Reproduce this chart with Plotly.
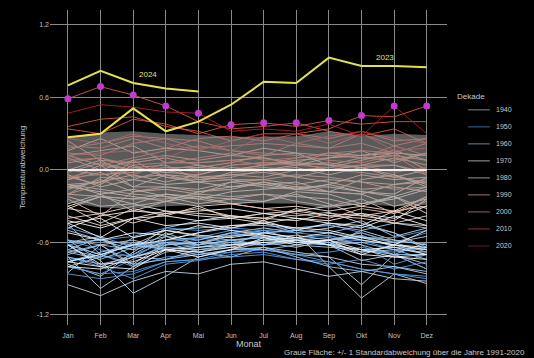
import plotly.graph_objects as go

# Monthly global temperature anomalies (°C) relative to 1991-2020, one row per year
months = ["Jan", "Feb", "Mar", "Apr", "Mai", "Jun", "Jul", "Aug", "Sep", "Okt", "Nov", "Dez"]

years_1940s = [
    [-0.72, -0.98, -0.80, -0.62, -0.60, -0.55, -0.50, -0.58, -0.62, -0.75, -0.70, -0.82],
    [-0.60, -0.55, -0.72, -0.58, -0.52, -0.48, -0.44, -0.52, -0.48, -0.42, -0.55, -0.48],
    [-0.45, -0.70, -0.62, -0.50, -0.55, -0.58, -0.62, -0.56, -0.60, -0.68, -0.62, -0.70],
    [-0.85, -0.62, -0.58, -0.65, -0.70, -0.66, -0.60, -0.64, -0.58, -0.52, -0.60, -0.55],
    [-0.50, -0.58, -0.66, -0.48, -0.42, -0.40, -0.36, -0.38, -0.35, -0.44, -0.52, -0.66],
    [-0.62, -0.80, -0.70, -0.55, -0.62, -0.52, -0.48, -0.52, -0.80, -1.06, -0.86, -0.94],
    [-0.68, -0.62, -0.78, -0.60, -0.68, -0.72, -0.64, -0.68, -0.72, -0.95, -0.70, -0.78],
    [-0.78, -0.88, -0.68, -0.52, -0.62, -0.58, -0.55, -0.60, -0.62, -0.50, -0.58, -0.62],
    [-0.58, -0.75, -1.02, -0.88, -0.72, -0.66, -0.66, -0.70, -0.72, -0.78, -0.80, -0.86],
    [-0.95, -1.04, -0.92, -0.84, -0.86, -0.78, -0.76, -0.82, -0.88, -0.84, -0.90, -0.92],
]
years_1950s = [
    [-0.80, -0.86, -0.84, -0.76, -0.74, -0.68, -0.64, -0.70, -0.76, -0.82, -0.86, -0.88],
    [-0.80, -0.86, -0.74, -0.62, -0.58, -0.52, -0.50, -0.48, -0.45, -0.52, -0.60, -0.52],
    [-0.58, -0.66, -0.72, -0.58, -0.56, -0.54, -0.52, -0.56, -0.54, -0.62, -0.78, -0.70],
    [-0.62, -0.58, -0.55, -0.48, -0.50, -0.48, -0.50, -0.52, -0.55, -0.58, -0.66, -0.64],
    [-0.76, -0.70, -0.80, -0.72, -0.70, -0.68, -0.66, -0.70, -0.68, -0.64, -0.70, -0.82],
    [-0.72, -0.80, -0.90, -0.78, -0.75, -0.70, -0.68, -0.74, -0.76, -0.82, -0.86, -0.90],
    [-0.86, -0.90, -0.86, -0.76, -0.74, -0.72, -0.70, -0.74, -0.78, -0.74, -0.82, -0.76],
    [-0.74, -0.72, -0.70, -0.60, -0.56, -0.50, -0.52, -0.50, -0.52, -0.56, -0.56, -0.50],
    [-0.48, -0.55, -0.64, -0.58, -0.56, -0.60, -0.54, -0.58, -0.60, -0.58, -0.62, -0.66],
    [-0.62, -0.70, -0.62, -0.60, -0.64, -0.58, -0.56, -0.58, -0.62, -0.66, -0.68, -0.64],
]
years_1960s = [
    [-0.70, -0.62, -0.80, -0.68, -0.64, -0.60, -0.62, -0.58, -0.56, -0.62, -0.70, -0.60],
    [-0.60, -0.58, -0.62, -0.55, -0.58, -0.52, -0.56, -0.54, -0.58, -0.55, -0.60, -0.68],
    [-0.58, -0.62, -0.66, -0.60, -0.62, -0.58, -0.56, -0.60, -0.58, -0.56, -0.58, -0.62],
    [-0.66, -0.56, -0.72, -0.64, -0.66, -0.62, -0.52, -0.50, -0.52, -0.46, -0.52, -0.64],
    [-0.62, -0.70, -0.78, -0.74, -0.70, -0.66, -0.64, -0.72, -0.80, -0.84, -0.80, -0.84],
    [-0.72, -0.78, -0.72, -0.74, -0.66, -0.64, -0.66, -0.62, -0.64, -0.66, -0.70, -0.70],
    [-0.76, -0.68, -0.62, -0.66, -0.62, -0.54, -0.54, -0.58, -0.60, -0.68, -0.66, -0.68],
    [-0.68, -0.74, -0.64, -0.62, -0.60, -0.62, -0.58, -0.60, -0.58, -0.54, -0.64, -0.66],
    [-0.80, -0.72, -0.60, -0.66, -0.68, -0.62, -0.62, -0.60, -0.62, -0.60, -0.66, -0.74],
    [-0.66, -0.72, -0.56, -0.50, -0.48, -0.46, -0.46, -0.48, -0.46, -0.50, -0.44, -0.48],
]
years_1970s = [
    [-0.44, -0.40, -0.56, -0.50, -0.54, -0.56, -0.52, -0.56, -0.52, -0.58, -0.62, -0.66],
    [-0.62, -0.78, -0.76, -0.66, -0.64, -0.62, -0.60, -0.58, -0.62, -0.66, -0.64, -0.70],
    [-0.76, -0.70, -0.62, -0.58, -0.52, -0.46, -0.44, -0.40, -0.42, -0.36, -0.40, -0.30],
    [-0.30, -0.22, -0.28, -0.34, -0.38, -0.40, -0.44, -0.48, -0.50, -0.56, -0.62, -0.64],
    [-0.80, -0.82, -0.72, -0.66, -0.68, -0.64, -0.58, -0.56, -0.62, -0.70, -0.72, -0.70],
    [-0.52, -0.58, -0.52, -0.54, -0.46, -0.50, -0.54, -0.60, -0.58, -0.66, -0.72, -0.74],
    [-0.76, -0.80, -0.82, -0.66, -0.72, -0.66, -0.56, -0.62, -0.58, -0.70, -0.62, -0.50],
    [-0.48, -0.38, -0.34, -0.36, -0.34, -0.32, -0.36, -0.40, -0.44, -0.48, -0.38, -0.46],
    [-0.42, -0.48, -0.40, -0.46, -0.44, -0.48, -0.42, -0.50, -0.44, -0.46, -0.34, -0.42],
    [-0.44, -0.56, -0.40, -0.38, -0.42, -0.38, -0.40, -0.34, -0.30, -0.28, -0.24, -0.16],
]
years_1980s = [
    [-0.22, -0.30, -0.28, -0.20, -0.22, -0.24, -0.20, -0.22, -0.24, -0.30, -0.22, -0.32],
    [-0.12, -0.20, -0.16, -0.22, -0.28, -0.24, -0.26, -0.20, -0.28, -0.38, -0.34, -0.22],
    [-0.40, -0.36, -0.44, -0.36, -0.32, -0.38, -0.40, -0.42, -0.36, -0.38, -0.42, -0.24],
    [-0.14, -0.18, -0.22, -0.26, -0.22, -0.28, -0.26, -0.18, -0.20, -0.28, -0.22, -0.36],
    [-0.30, -0.44, -0.32, -0.38, -0.30, -0.40, -0.36, -0.34, -0.38, -0.36, -0.44, -0.46],
    [-0.38, -0.46, -0.40, -0.34, -0.36, -0.38, -0.42, -0.32, -0.38, -0.40, -0.44, -0.38],
    [-0.32, -0.36, -0.30, -0.26, -0.30, -0.28, -0.32, -0.30, -0.34, -0.30, -0.34, -0.30],
    [-0.28, -0.20, -0.34, -0.26, -0.18, -0.14, -0.10, -0.16, -0.12, -0.18, -0.20, -0.06],
    [-0.04, -0.14, -0.08, -0.12, -0.10, -0.14, -0.12, -0.16, -0.18, -0.20, -0.30, -0.24],
    [-0.32, -0.22, -0.24, -0.20, -0.24, -0.18, -0.16, -0.14, -0.14, -0.18, -0.22, -0.14],
]
years_1990s = [
    [-0.14, -0.10, 0.04, -0.06, -0.10, -0.08, -0.12, -0.10, -0.18, -0.08, -0.04, -0.12],
    [-0.08, -0.02, -0.14, -0.04, -0.06, -0.04, -0.02, -0.06, -0.10, -0.16, -0.14, -0.18],
    [-0.12, -0.16, -0.20, -0.22, -0.24, -0.28, -0.32, -0.36, -0.40, -0.32, -0.36, -0.26],
    [-0.20, -0.22, -0.24, -0.24, -0.20, -0.22, -0.20, -0.26, -0.30, -0.24, -0.36, -0.22],
    [-0.24, -0.38, -0.18, -0.16, -0.20, -0.10, -0.14, -0.16, -0.12, -0.04, -0.08, -0.06],
    [0.00, 0.08, -0.06, -0.04, -0.10, -0.02, 0.00, 0.02, -0.04, 0.02, -0.04, -0.14],
    [-0.16, -0.08, -0.18, -0.14, -0.18, -0.16, -0.10, -0.14, -0.18, -0.20, -0.12, -0.10],
    [-0.12, -0.10, -0.04, -0.10, -0.04, 0.02, 0.00, 0.04, 0.10, 0.12, 0.14, 0.12],
    [0.16, 0.26, 0.14, 0.18, 0.16, 0.12, 0.18, 0.14, 0.04, 0.02, -0.06, 0.00],
    [-0.08, 0.04, -0.14, -0.14, -0.16, -0.10, -0.08, -0.12, -0.08, -0.10, -0.12, -0.08],
]
years_2000s = [
    [-0.20, -0.06, -0.08, 0.00, -0.06, -0.08, -0.08, -0.04, -0.06, -0.10, -0.16, -0.14],
    [-0.06, -0.12, 0.02, -0.02, 0.02, 0.00, 0.04, 0.06, 0.00, 0.04, 0.10, 0.04],
    [0.12, 0.16, 0.20, 0.06, 0.06, 0.08, 0.10, 0.04, 0.06, 0.02, 0.04, -0.02],
    [0.12, 0.04, 0.00, 0.00, 0.04, 0.00, 0.04, 0.08, 0.10, 0.16, 0.06, 0.14],
    [0.06, 0.10, 0.02, 0.04, -0.08, -0.04, -0.06, 0.00, 0.02, 0.08, 0.14, 0.00],
    [0.10, 0.00, 0.08, 0.12, 0.08, 0.12, 0.10, 0.06, 0.14, 0.12, 0.16, 0.08],
    [-0.02, 0.06, 0.00, -0.02, -0.04, 0.04, 0.06, 0.06, 0.04, 0.10, 0.08, 0.14],
    [0.24, 0.08, 0.06, 0.10, 0.04, 0.00, 0.02, 0.00, 0.00, -0.02, -0.06, -0.10],
    [-0.20, -0.12, 0.08, -0.06, -0.08, -0.06, 0.00, -0.06, 0.00, 0.04, 0.04, -0.04],
    [0.00, -0.04, -0.02, 0.02, 0.02, 0.06, 0.12, 0.14, 0.12, 0.10, 0.12, 0.08],
]
years_2010s = [
    [0.18, 0.22, 0.28, 0.26, 0.24, 0.16, 0.14, 0.12, 0.08, 0.06, 0.12, -0.04],
    [-0.06, -0.04, 0.00, 0.02, -0.02, 0.04, 0.06, 0.04, 0.02, 0.04, -0.02, 0.02],
    [-0.06, 0.00, -0.04, 0.06, 0.10, 0.14, 0.08, 0.10, 0.14, 0.16, 0.14, 0.00],
    [0.08, 0.10, 0.04, 0.06, 0.06, 0.08, 0.04, 0.10, 0.14, 0.10, 0.20, 0.12],
    [0.12, 0.04, 0.10, 0.16, 0.20, 0.16, 0.12, 0.22, 0.18, 0.22, 0.14, 0.22],
    [0.20, 0.18, 0.26, 0.18, 0.26, 0.28, 0.24, 0.30, 0.34, 0.45, 0.44, 0.53],
    [0.59, 0.69, 0.62, 0.53, 0.40, 0.34, 0.36, 0.39, 0.32, 0.28, 0.34, 0.22],
    [0.36, 0.42, 0.44, 0.36, 0.32, 0.24, 0.30, 0.30, 0.26, 0.32, 0.24, 0.26],
    [0.14, 0.12, 0.22, 0.26, 0.18, 0.20, 0.22, 0.20, 0.18, 0.30, 0.20, 0.26],
    [0.34, 0.30, 0.42, 0.38, 0.30, 0.375, 0.39, 0.36, 0.41, 0.38, 0.40, 0.40],
]
years_2020s = [
    [0.47, 0.54, 0.52, 0.48, 0.47, 0.32, 0.34, 0.32, 0.38, 0.28, 0.53, 0.30],
    [0.12, 0.14, 0.16, 0.10, 0.20, 0.16, 0.28, 0.22, 0.28, 0.32, 0.26, 0.22],
    [0.26, 0.22, 0.30, 0.22, 0.16, 0.24, 0.30, 0.30, 0.22, 0.30, 0.16, 0.18],
]
year_2023 = [0.27, 0.30, 0.51, 0.32, 0.40, 0.54, 0.73, 0.72, 0.93, 0.86, 0.86, 0.85]
year_2024 = [0.70, 0.82, 0.72, 0.675, 0.65]

# +/- 1 standard deviation of each month over 1991-2020 (mean is zero by construction)
ref_mean = [0.0] * 12
ref_sd = [0.27, 0.31, 0.32, 0.30, 0.29, 0.275, 0.275, 0.28, 0.32, 0.28, 0.30, 0.29]

decade_labels = [1940, 1950, 1960, 1970, 1980, 1990, 2000, 2010, 2020]
decade_rows = [years_1940s, years_1950s, years_1960s, years_1970s, years_1980s,
               years_1990s, years_2000s, years_2010s, years_2020s]
decade_colors = ["#c3d2e2", "#5b9de0", "#9ccbf0", "#f4f4f4", "#f3dccf",
                 "#f0bba4", "#e9977f", "#d85548", "#b31f2c"]

fig = go.Figure()

for label, rows, color in zip(decade_labels, decade_rows, decade_colors):
    for vals in rows:
        fig.add_trace(go.Scatter(
            x=months, y=vals, mode="lines", name=str(label), legendgroup=str(label),
            showlegend=False, line=dict(color=color, width=1), opacity=0.9,
        ))

# Shaded band: +/- 1 standard deviation 1991-2020
upper = [m + s for m, s in zip(ref_mean, ref_sd)]
lower = [m - s for m, s in zip(ref_mean, ref_sd)]
fig.add_trace(go.Scatter(x=months, y=upper, mode="lines", line=dict(width=0),
                         showlegend=False, hoverinfo="skip"))
fig.add_trace(go.Scatter(x=months, y=lower, mode="lines", line=dict(width=0),
                         fill="tonexty", fillcolor="rgba(150,150,150,0.6)",
                         showlegend=False, hoverinfo="skip"))
fig.add_trace(go.Scatter(x=months, y=ref_mean, mode="lines",
                         line=dict(color="rgba(255,255,255,0.9)", width=2),
                         showlegend=False))

# Previous monthly records (before 2023)
history = [row for rows in decade_rows for row in rows]
records = [max(row[m] for row in history) for m in range(12)]
fig.add_trace(go.Scatter(x=months, y=records, mode="markers",
                         marker=dict(color="#c03ccc", size=7), showlegend=False))

for vals in (year_2023, year_2024):
    fig.add_trace(go.Scatter(x=months[:len(vals)], y=vals, mode="lines",
                             line=dict(color="#e4e04e", width=2), showlegend=False))

fig.add_annotation(x=2.45, y=0.79, text="2024", showarrow=False,
                   font=dict(color="#e4e07a", size=8))
fig.add_annotation(x=9.72, y=0.935, text="2023", showarrow=False,
                   font=dict(color="#e4e07a", size=8))
fig.add_annotation(x=1.202, y=-0.086, xref="paper", yref="paper",
                   xanchor="right", yanchor="middle",
                   text="Graue Fläche: +/- 1 Standardabweichung über die Jahre 1991-2020",
                   showarrow=False, font=dict(color="#c8c8c8", size=8))

# Decade key on the right, in paper coordinates
key_x0, key_x1, key_text_x = 1.053, 1.108, 1.118
key_top, key_step = 0.683, 0.054
fig.add_annotation(x=1.02, y=0.725, xref="paper", yref="paper", xanchor="left",
                   yanchor="middle", text="Dekade", showarrow=False,
                   font=dict(color="#c8c8c8", size=8))
for k, (label, color) in enumerate(zip(decade_labels, decade_colors)):
    yk = key_top - k * key_step
    fig.add_shape(type="line", xref="paper", yref="paper", x0=key_x0, x1=key_x1,
                  y0=yk, y1=yk, line=dict(color=color, width=1), opacity=0.65)
    fig.add_annotation(x=key_text_x, y=yk, xref="paper", yref="paper", xanchor="left",
                       yanchor="middle", text=str(label), showarrow=False,
                       font=dict(color="#c8c8c8", size=7))

axis_font = dict(color="#c0c0c0", size=7, family="Liberation Sans")
fig.update_layout(
    width=534, height=358,
    margin=dict(l=50, r=87, t=10, b=33),
    paper_bgcolor="black", plot_bgcolor="black",
    font=dict(family="Liberation Sans", color="#c8c8c8", size=8),
    showlegend=False,
    xaxis=dict(range=[-0.55, 11.62], showgrid=True, gridcolor="#8a8a8a", gridwidth=0.8,
               zeroline=False, tickfont=axis_font, ticks="", ticklabelstandoff=5,
               title=dict(text="Monat", font=dict(size=9, color="#c8c8c8"), standoff=0)),
    yaxis=dict(range=[-1.283, 1.324], tickvals=[-1.2, -0.6, 0.0, 0.6, 1.2],
               ticktext=["-1.2", "-0.6", "0.0", "0.6", "1.2"],
               showgrid=True, gridcolor="#8a8a8a", gridwidth=0.8, zeroline=False,
               tickfont=axis_font, ticks="",
               title=dict(text="Temperaturabweichung", font=dict(size=8, color="#c8c8c8"),
                          standoff=10)),
)

fig.write_html("out.html")
